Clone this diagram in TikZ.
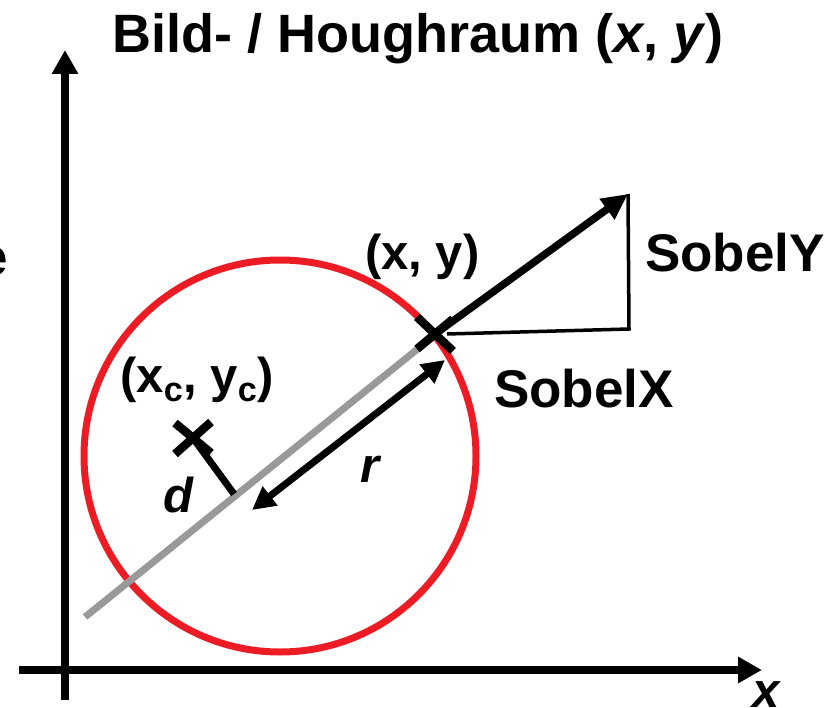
\documentclass[tikz,border=0pt]{standalone}
\usepackage{fontspec}
\setmainfont{Liberation Sans}
\usetikzlibrary{arrows.meta,calc}
\definecolor{circred}{RGB}{237,28,36}
\definecolor{lgray}{RGB}{153,153,153}
\begin{document}
\begin{tikzpicture}[x=1pt,y=-1pt,
  axisline/.style={line width=8pt,-{Triangle[length=24pt,width=25pt]}},
  vecline/.style={line width=7.5pt,-{Triangle[length=26pt,width=24pt]}},
  rline/.style={line width=7pt,{Triangle[length=23pt,width=23pt]}-{Triangle[length=23pt,width=23pt]}},
  crossarm/.style={line width=8.5pt},
  thinline/.style={line width=3.5pt,line join=miter},
  lab/.style={inner sep=0pt,font=\bfseries\fontsize{49}{58}\selectfont},
  biglab/.style={inner sep=0pt,font=\bfseries\fontsize{53}{62}\selectfont}]
\useasboundingbox (0,0) rectangle (835,708);
% coordinates
\coordinate (yax0) at (65,700);
\coordinate (yax1) at (65,50);
\coordinate (xax0) at (19,670);
\coordinate (xax1) at (762,670);
\coordinate (M) at (280,456);
\coordinate (P) at (435,334);
\coordinate (C) at (193,438);
\coordinate (G0) at (85,617);
\coordinate (G1) at (435,335);
\coordinate (T) at (628,194);
\coordinate (B0) at (447,334);
\coordinate (B1) at (629,329);
\coordinate (R0) at (445,360);
\coordinate (R1) at (252,510);
\coordinate (D1) at (234,494);
% axes
\draw[axisline] (yax0) -- (yax1);
\draw[axisline] (xax0) -- (xax1);
% circle
\draw[circred,line width=7pt] (M) circle[radius=196pt];
% gray line
\draw[lgray,line width=7pt] (G0) -- (G1);
% d line
\draw[line width=7pt] (C) -- (D1);
% r arrow
\draw[rline] (R0) -- (R1);
% triangle
\draw[thinline] (B0) -- (B1) -- (T);
% gradient vector
\draw[vecline] (P) -- (T);
% crosses
\draw[crossarm] ($(P)+(-18,15)$) -- ($(P)+(18,-15)$);
\draw[crossarm] ($(P)+(-18,-17)$) -- ($(P)+(18,17)$);
\draw[crossarm] ($(C)+(-18,-15)$) -- ($(C)+(18,15)$);
\draw[crossarm] ($(C)+(-18,16)$) -- ($(C)+(18,-16)$);
% labels
\node[biglab,font=\bfseries\fontsize{54}{62}\selectfont,anchor=base] (title) at (418,53) {Bild- / Houghraum (\textit{x}, \textit{y})};
\node[biglab,anchor=base east] (ecut) at (8,276) {e};
\node[lab,anchor=base west] (pxy) at (365,270) {(x, y)};
\node[lab,anchor=base west] (cxy) at (120,392) {(x\textsubscript{c}, y\textsubscript{c})};
\node[lab,anchor=base west] (dlab) at (163,512) {\textit{d}};
\node[lab,anchor=base west] (rlab) at (360,482) {\textit{r}};
\node[biglab,anchor=base west] (sy) at (645,272) {SobelY};
\node[biglab,anchor=base west] (sx) at (494,407) {SobelX};
\node[lab,anchor=base west] (xlab) at (752,707) {\textit{x}};
\end{tikzpicture}
\end{document}
